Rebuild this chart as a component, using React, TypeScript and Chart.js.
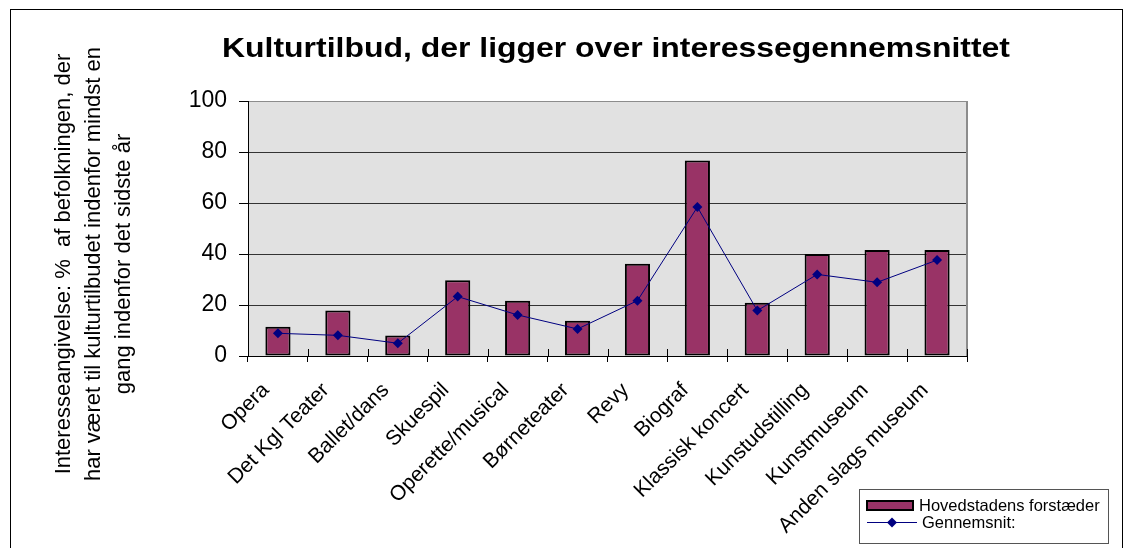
import React, { useEffect, useRef } from 'react';
import { Chart, registerables } from 'chart.js';

Chart.register(...registerables);

const categories = [
  'Opera',
  'Det Kgl Teater',
  'Ballet/dans',
  'Skuespil',
  'Operette/musical',
  'Børneteater',
  'Revy',
  'Biograf',
  'Klassisk koncert',
  'Kunstudstilling',
  'Kunstmuseum',
  'Anden slags museum',
];

const suburbValues = [11.5, 17.8, 8.0, 29.7, 21.7, 13.8, 36.2, 76.7, 20.9, 40.0, 41.6, 41.6];
const averageValues = [8.9, 8.1, 5.0, 23.3, 16.1, 10.6, 21.7, 58.4, 17.8, 32.0, 28.9, 37.6];

const yMin = 0;
const yMax = 100;
const yStep = 20;

const seriesLabels = ['Hovedstadens forstæder', 'Gennemsnit:'];
const titleText = 'Kulturtilbud, der ligger over interessegennemsnittet';
const yTitleLines = [
  'Interesseangivelse: %  af befolkningen, der',
  'har været til kulturtilbudet indenfor mindst en',
  'gang indenfor det sidste år',
];

const FONT = "'Liberation Sans', Arial, sans-serif";
const BAR_COLOR = '#993366';
const LINE_COLOR = '#000080';

const decorPlugin = {
  id: 'decor',
  beforeDraw(chart: any) {
    const { ctx, chartArea } = chart;
    ctx.save();
    ctx.fillStyle = '#ffffff';
    ctx.fillRect(0, 0, chart.width, chart.height);
    ctx.fillStyle = '#E1E1E1';
    ctx.fillRect(chartArea.left, chartArea.top, chartArea.right - chartArea.left, chartArea.bottom - chartArea.top);
    ctx.strokeStyle = '#000';
    ctx.lineWidth = 1;
    ctx.strokeRect(10.5, 9.5, 1112, 600);
    ctx.restore();
  },
  afterDraw(chart: any) {
    const { ctx, chartArea } = chart;
    ctx.save();
    ctx.strokeStyle = '#8c8c8c';
    ctx.lineWidth = 2;
    ctx.beginPath();
    ctx.moveTo(chartArea.right, chartArea.top);
    ctx.lineTo(chartArea.right, chartArea.bottom);
    ctx.stroke();

    const xs = chart.scales.x;
    ctx.strokeStyle = '#000';
    ctx.lineWidth = 1;
    for (let i = 0; i <= categories.length; i++) {
      const px = Math.round(xs.getPixelForValue(i - 0.5)) + 0.5;
      ctx.beginPath();
      ctx.moveTo(px, chartArea.bottom - 7);
      ctx.lineTo(px, chartArea.bottom);
      ctx.stroke();
    }

    ctx.fillStyle = '#000';
    ctx.font = `bold 28px ${FONT}`;
    const tw = ctx.measureText(titleText).width;
    ctx.save();
    ctx.translate(616, 57);
    ctx.scale(788 / tw, 1);
    ctx.textAlign = 'center';
    ctx.textBaseline = 'alphabetic';
    ctx.fillText(titleText, 0, 0);
    ctx.restore();

    ctx.font = `22px ${FONT}`;
    const baselines = [70, 100, 130];
    yTitleLines.forEach((line, i) => {
      ctx.save();
      ctx.translate(baselines[i], 264);
      ctx.rotate(-Math.PI / 2);
      ctx.textAlign = 'center';
      ctx.textBaseline = 'alphabetic';
      ctx.fillText(line, 0, 0);
      ctx.restore();
    });

    ctx.strokeStyle = '#555';
    ctx.lineWidth = 1;
    ctx.fillStyle = '#fff';
    ctx.fillRect(859.5, 489.5, 249, 54);
    ctx.strokeRect(859.5, 489.5, 249, 54);

    ctx.fillStyle = BAR_COLOR;
    ctx.fillRect(867, 501, 46, 9);
    ctx.strokeStyle = '#000';
    ctx.lineWidth = 2;
    ctx.strokeRect(867, 501, 46, 9);

    ctx.strokeStyle = LINE_COLOR;
    ctx.lineWidth = 1;
    ctx.beginPath();
    ctx.moveTo(867, 522.5);
    ctx.lineTo(917, 522.5);
    ctx.stroke();
    ctx.fillStyle = LINE_COLOR;
    ctx.beginPath();
    ctx.moveTo(892 - 5, 522.5);
    ctx.lineTo(892, 517.5);
    ctx.lineTo(892 + 5, 522.5);
    ctx.lineTo(892, 527.5);
    ctx.closePath();
    ctx.fill();

    ctx.fillStyle = '#000';
    ctx.font = `16.5px ${FONT}`;
    ctx.textAlign = 'left';
    ctx.textBaseline = 'alphabetic';
    ctx.fillText(seriesLabels[0], 919, 511);
    ctx.fillText(seriesLabels[1], 922, 528);
    ctx.restore();
  },
};

export default function App() {
  const canvasRef = useRef<HTMLCanvasElement | null>(null);

  useEffect(() => {
    document.body.style.margin = '0';
    const canvas = canvasRef.current;
    if (!canvas) return;
    const chart = new Chart(canvas, {
      type: 'bar',
      data: {
        labels: categories,
        datasets: [
          {
            type: 'line',
            label: seriesLabels[1],
            data: averageValues,
            borderColor: LINE_COLOR,
            borderWidth: 1,
            pointStyle: 'rectRot',
            pointRadius: 5,
            pointBackgroundColor: LINE_COLOR,
            pointBorderColor: LINE_COLOR,
            pointBorderWidth: 0,
            tension: 0,
            order: 0,
          } as any,
          {
            type: 'bar',
            label: seriesLabels[0],
            data: suburbValues,
            backgroundColor: BAR_COLOR,
            borderColor: '#000',
            borderWidth: 2,
            borderSkipped: false,
            barPercentage: 0.42,
            categoryPercentage: 1,
            order: 1,
          } as any,
        ],
      },
      options: {
        responsive: false,
        animation: false,
        layout: { padding: { left: 0, right: 163, top: 101, bottom: 0 } },
        plugins: {
          legend: { display: false },
          title: { display: false },
          tooltip: { enabled: false },
        },
        scales: {
          x: {
            offset: true,
            grid: {
              offset: true,
              drawOnChartArea: false,
              tickLength: 6,
              color: '#000',
            },
            border: { color: '#000', width: 1 },
            ticks: {
              autoSkip: false,
              minRotation: 45,
              maxRotation: 45,
              color: '#000',
              font: { family: FONT, size: 21 },
              padding: 16,
              labelOffset: -12,
            },
            afterFit: (s: any) => {
              s.height = 192;
            },
          },
          y: {
            min: yMin,
            max: yMax,
            ticks: {
              stepSize: yStep,
              color: '#000',
              font: { family: FONT, size: 23 },
              padding: 12,
            },
            grid: {
              color: (c: any) => (c.tick && c.tick.value === yMax ? '#8c8c8c' : '#333333'),
              tickColor: '#000',
              tickLength: 9,
              lineWidth: 1,
            },
            border: { color: '#000', width: 1 },
            afterFit: (s: any) => {
              s.width = 248;
            },
          },
        },
      } as any,
      plugins: [decorPlugin],
    });
    return () => chart.destroy();
  }, []);

  return <canvas ref={canvasRef} width={1130} height={548} style={{ display: 'block' }} />;
}
